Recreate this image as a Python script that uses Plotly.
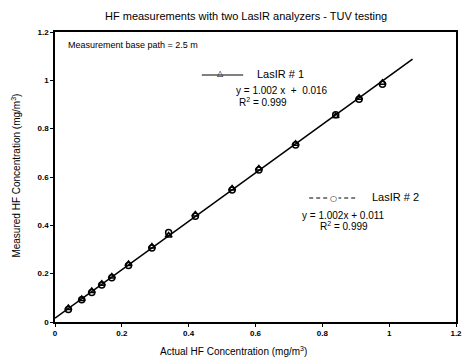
import plotly.graph_objects as go

# Data
actual_hf = [0.04, 0.08, 0.11, 0.14, 0.17, 0.22, 0.29, 0.34, 0.42, 0.53, 0.61, 0.72, 0.84, 0.91, 0.98]
lasir1 = [0.058, 0.095, 0.128, 0.158, 0.188, 0.240, 0.312, 0.358, 0.445, 0.552, 0.635, 0.738, 0.852, 0.928, 0.990]
lasir2 = [0.052, 0.092, 0.122, 0.153, 0.183, 0.234, 0.306, 0.370, 0.438, 0.546, 0.629, 0.732, 0.858, 0.922, 0.984]

trend_slope = 1.002
trend_intercept = 0.016
trend_x = [0.0, 1.07]
trend_y = [trend_slope * v + trend_intercept for v in trend_x]

x_ticks = [0, 0.2, 0.4, 0.6, 0.8, 1, 1.2]
y_ticks = [0, 0.2, 0.4, 0.6, 0.8, 1, 1.2]
x_tick_text = ["0", "0.2", "0.4", "0.6", "0.8", "1", "1.2"]
y_tick_text = ["0", "0.2", "0.4", "0.6", "0.8", "1", "1.2"]

W, H = 469, 358
L, R, T, B = 55, 7, 32, 36
pw, ph = W - L - R, H - T - B

def px(xp):
    return (xp - L) / pw

def py(yp):
    return (H - B - yp) / ph

font = "Liberation Sans, Arial, sans-serif"

fig = go.Figure()
fig.add_trace(go.Scatter(x=trend_x, y=trend_y, mode="lines",
                         line=dict(color="black", width=1.6), showlegend=False))
fig.add_trace(go.Scatter(x=actual_hf, y=lasir1, mode="markers",
                         marker=dict(symbol="triangle-up-open", size=6, color="black",
                                     line=dict(width=1.5, color="black")),
                         showlegend=False))
fig.add_trace(go.Scatter(x=actual_hf, y=lasir2, mode="markers",
                         marker=dict(symbol="circle-open", size=6, color="black",
                                     line=dict(width=1.5, color="black")),
                         showlegend=False))

shapes = [
    # legend sample lines
    dict(type="line", xref="paper", yref="paper", x0=px(204), x1=px(246), y0=py(75), y1=py(75),
         line=dict(color="black", width=1)),
    dict(type="line", xref="paper", yref="paper", x0=px(313), x1=px(362), y0=py(198), y1=py(198),
         line=dict(color="black", width=1, dash="4px,3px")),
]

def ann(text, xp, yp, size=9, xanchor="center", family=font, **kw):
    return dict(text=text, xref="paper", yref="paper", x=px(xp), y=py(yp),
                xanchor=xanchor, yanchor="middle", showarrow=False,
                font=dict(size=size, family=family, color="black"), **kw)

annotations = [
    ann("HF measurements with two LasIR analyzers - TUV testing", 249, 16, size=11),
    ann("Measurement base path = 2.5 m", 66, 45, size=9, xanchor="left"),
    ann("△", 223, 74, size=8, family="DejaVu Sans"),
    ann("LasIR # 1", 258, 74, size=11, xanchor="left"),
    ann("y = 1.002 x  +  0.016", 285, 91, size=10),
    ann("R<sup>2</sup> = 0.999", 266, 102, size=10),
    ann("○", 338, 198, size=8, family="DejaVu Sans", bgcolor="white"),
    ann("LasIR # 2", 375, 197, size=11, xanchor="left"),
    ann("y = 1.002x + 0.011", 348, 215, size=10),
    ann("R<sup>2</sup> = 0.999", 348, 226, size=10),
    ann("Actual HF Concentration (mg/m<sup>3</sup>)", 236, 351, size=10),
    ann("Measured HF Concentration (mg/m<sup>3</sup>)", 15, 176, size=10, textangle=-90),
]

axis_common = dict(showgrid=False, zeroline=False, showline=True, linecolor="black", linewidth=1.5,
                   mirror=True, ticks="outside", ticklen=3, tickcolor="black",
                   tickfont=dict(size=8, family=font, color="black", weight="bold"))

fig.update_layout(
    width=W, height=H,
    margin=dict(l=L, r=R, t=T, b=B),
    paper_bgcolor="white", plot_bgcolor="white",
    xaxis=dict(range=[0, 1.2], tickvals=x_ticks, ticktext=x_tick_text, **axis_common),
    yaxis=dict(range=[0, 1.2], tickvals=y_ticks, ticktext=y_tick_text, **axis_common),
    shapes=shapes, annotations=annotations, showlegend=False,
)

fig.write_html("out.html")
